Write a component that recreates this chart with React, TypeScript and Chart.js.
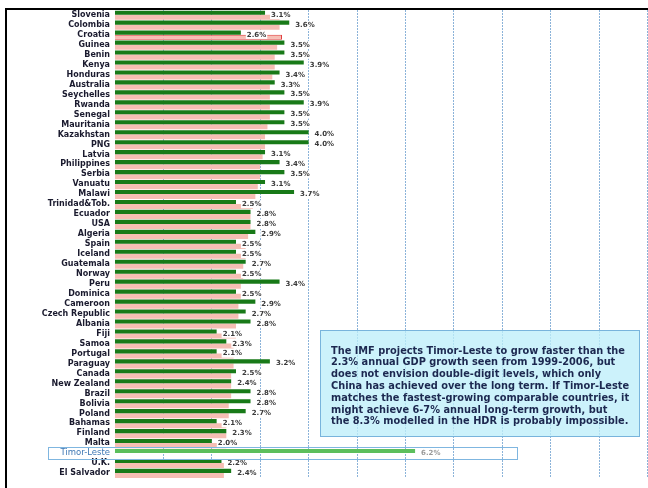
import React, { useEffect, useRef } from "react";
import { Chart, registerables } from "chart.js";

Chart.register(...registerables);

const categories = [
  "Slovenia", "Colombia", "Croatia", "Guinea", "Benin", "Kenya", "Honduras", "Australia",
  "Seychelles", "Rwanda", "Senegal", "Mauritania", "Kazakhstan", "PNG", "Latvia", "Philippines",
  "Serbia", "Vanuatu", "Malawi", "Trinidad&Tob.", "Ecuador", "USA", "Algeria", "Spain",
  "Iceland", "Guatemala", "Norway", "Peru", "Dominica", "Cameroon", "Czech Republic", "Albania",
  "Fiji", "Samoa", "Portugal", "Paraguay", "Canada", "New Zealand", "Brazil", "Bolivia",
  "Poland", "Bahamas", "Finland", "Malta", "Timor-Leste", "U.K.", "El Salvador",
];

// green bars (labelled)
const growthValues = [
  3.1, 3.6, 2.6, 3.5, 3.5, 3.9, 3.4, 3.3,
  3.5, 3.9, 3.5, 3.5, 4.0, 4.0, 3.1, 3.4,
  3.5, 3.1, 3.7, 2.5, 2.8, 2.8, 2.9, 2.5,
  2.5, 2.7, 2.5, 3.4, 2.5, 2.9, 2.7, 2.8,
  2.1, 2.3, 2.1, 3.2, 2.5, 2.4, 2.8, 2.8,
  2.7, 2.1, 2.3, 2.0, 6.2, 2.2, 2.4,
];

// pink bars
const comparisonValues = [
  3.4, 3.4, 3.45, 3.35, 3.3, 3.3, 3.25, 3.2,
  3.2, 3.2, 3.2, 3.15, 3.1, 3.1, 3.05, 3.0,
  3.0, 2.95, 2.9, 2.85, 2.8, 2.8, 2.75, 2.7,
  2.7, 2.65, 2.65, 2.6, 2.6, 2.55, 2.55, 2.5,
  2.5, 2.45, 2.45, 2.45, 2.4, 2.4, 2.4, 2.35,
  2.35, 2.3, 2.3, 2.3, null, 2.25, 2.25,
];

const highlightCategory = "Timor-Leste";
const highlightUpTo = 8.3;

const noteLines = [
  "The IMF projects Timor-Leste to grow faster than the",
  "2.3% annual GDP growth seen from 1999-2006, but",
  "does not envision double-digit levels, which only",
  "China has achieved over the long term. If Timor-Leste",
  "matches the fastest-growing comparable countries, it",
  "might achieve 6-7% annual long-term growth, but",
  "the 8.3% modelled in the HDR is probably impossible.",
];

const xMin = 0;
const xMax = 12;

export default function App() {
  const ref = useRef<HTMLCanvasElement>(null);

  useEffect(() => {
    const canvas = ref.current!;
    const hi = categories.indexOf(highlightCategory);

    const overlay = {
      id: "overlay",
      afterDatasetsDraw(chart: any) {
        const ctx = chart.ctx;
        const ys = chart.scales.y;
        const meta = chart.getDatasetMeta(0);
        ctx.save();
        ctx.textBaseline = "middle";
        ctx.textAlign = "left";
        ctx.font = "bold 7px 'DejaVu Sans'";
        meta.data.forEach((el: any, i: number) => {
          const v = growthValues[i];
          if (v == null) return;
          const txt = v.toFixed(1) + "%";
          const x = el.x + 6;
          const y = ys.getPixelForValue(i);
          const w = ctx.measureText(txt).width;
          ctx.fillStyle = "#ffffff";
          ctx.fillRect(x - 1, y - 4, w + 2, 8);
          ctx.fillStyle = i === hi ? "#9a9a9a" : "#3a3a3a";
          ctx.fillText(txt, x, y);
        });
        ctx.restore();
      },
      afterDraw(chart: any) {
        const ctx = chart.ctx;
        const xs = chart.scales.x;
        const ys = chart.scales.y;
        ctx.save();
        if (hi >= 0) {
          const cy = ys.getPixelForValue(hi);
          const x1 = 48.5;
          const x2 = Math.round(xs.getPixelForValue(highlightUpTo)) + 0.5;
          ctx.strokeStyle = "#7fb6e0";
          ctx.lineWidth = 1;
          ctx.strokeRect(x1, Math.round(cy - 6) + 0.5, x2 - x1, 12);
        }
        const bx = 320, by = 330, bw = 320, bh = 107;
        ctx.fillStyle = "rgba(190, 238, 250, 0.78)";
        ctx.fillRect(bx, by, bw, bh);
        ctx.strokeStyle = "#78b4dc";
        ctx.lineWidth = 1;
        ctx.strokeRect(bx + 0.5, by + 0.5, bw - 1, bh - 1);
        ctx.fillStyle = "#1c2850";
        ctx.font = "bold 9.8px 'DejaVu Sans'";
        ctx.textAlign = "left";
        ctx.textBaseline = "middle";
        noteLines.forEach((line, i) => {
          ctx.fillText(line, 331, 351 + i * 11.8);
        });
        ctx.fillStyle = "#000000";
        ctx.fillRect(5, 8, chart.width, 2);
        ctx.fillRect(5, 8, 2, chart.height);
        ctx.restore();
      },
    };

    const chart = new Chart(canvas, {
      type: "bar",
      data: {
        labels: categories,
        datasets: [
          {
            label: "Growth",
            data: growthValues,
            backgroundColor: categories.map((_, i) => (i === hi ? "#5cbf5c" : "#187a18")),
            categoryPercentage: 0.92,
            barPercentage: 0.9,
          },
          {
            label: "Comparison",
            data: comparisonValues as any,
            backgroundColor: "#f6beb4",
            borderColor: categories.map((c) => (c === "Croatia" ? "#e03a3a" : "#f6beb4")),
            borderWidth: categories.map((c) => (c === "Croatia" ? 1 : 0)),
            categoryPercentage: 0.92,
            barPercentage: 1.1,
          },
        ],
      },
      options: {
        indexAxis: "y",
        animation: false,
        responsive: false,
        maintainAspectRatio: false,
        devicePixelRatio: 1,
        layout: { padding: { top: 10, right: 4.2, left: 0, bottom: 4 } },
        plugins: {
          legend: { display: false },
          tooltip: { enabled: false },
        },
        scales: {
          x: {
            type: "linear",
            min: xMin,
            max: xMax,
            ticks: { display: false, stepSize: 1 },
            grid: {
              color: "rgba(110, 160, 208, 0.8)",
              lineWidth: (c: any) => (c.tick && c.tick.value === 0 ? 0 : 1),
              drawTicks: false,
            },
            border: { display: false, dash: [2, 1] },
            afterFit: (s: any) => {
              s.height = 0;
            },
          },
          y: {
            type: "category",
            ticks: {
              autoSkip: false,
              padding: 5,
              font: (c: any) =>
                c.index === hi
                  ? { family: "'DejaVu Sans'", size: 8.5, weight: "normal" }
                  : { family: "'DejaVu Sans'", size: 8, weight: "bold" },
              color: (c: any) => (c.index === hi ? "#3f78b4" : "#1a1a2e"),
            },
            grid: { display: false, drawTicks: false },
            border: { display: false },
            afterFit: (s: any) => {
              s.width = 115;
            },
          },
        },
      } as any,
      plugins: [overlay],
    });

    return () => chart.destroy();
  }, []);

  return (
    <div
      style={{
        position: "fixed",
        left: 0,
        top: 0,
        width: 648,
        height: 488,
        overflow: "hidden",
        background: "#ffffff",
      }}
    >
      <canvas ref={ref} width={700} height={488} style={{ display: "block", width: 700, height: 488 }} />
    </div>
  );
}
